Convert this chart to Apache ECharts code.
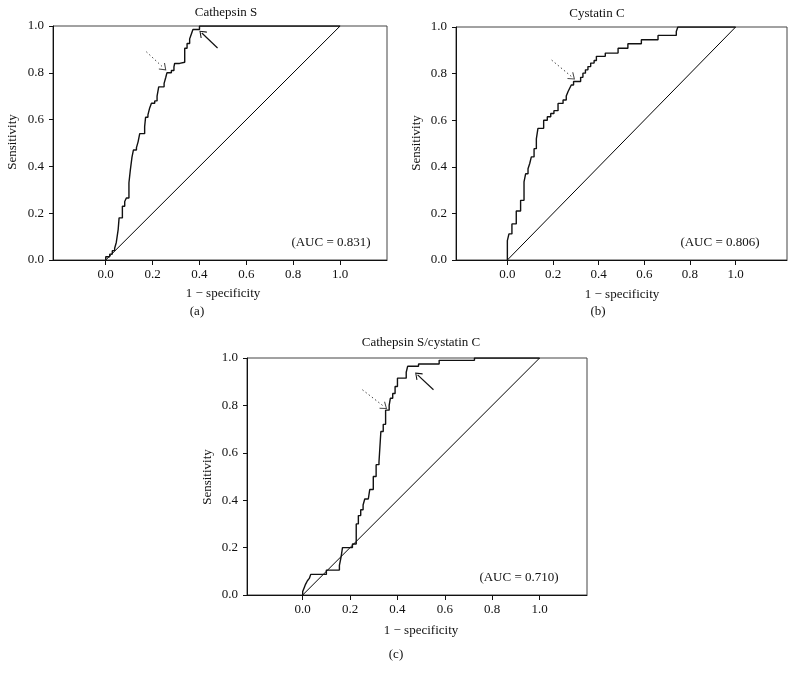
<!DOCTYPE html>
<html>
<head>
<meta charset="utf-8">
<script src="https://cdn.jsdelivr.net/npm/echarts@6/dist/echarts.min.js"></script>
<style>html,body{margin:0;padding:0;background:#fff}#c{width:796px;height:682px}</style>
</head>
<body>
<div id="c"></div>
<script>
// ---- data ----
const panelTitles = ['Cathepsin S', 'Cystatin C', 'Cathepsin S/cystatin C'];
const panelLetters = ['(a)', '(b)', '(c)'];
const aucLabels = ['(AUC = 0.831)', '(AUC = 0.806)', '(AUC = 0.710)'];
const xTicks = [0, 0.2, 0.4, 0.6, 0.8, 1.0];
const yTicks = [0, 0.2, 0.4, 0.6, 0.8, 1.0];
const diagX = [0, 1];
const diagY = [0, 1];

// ROC points (1 - specificity, sensitivity); vertical rise at each x, then horizontal
const fprA = [0, 0.017, 0.028, 0.038, 0.045, 0.053, 0.057, 0.071, 0.081, 0.088, 0.099, 0.105, 0.112, 0.118, 0.131, 0.138, 0.145, 0.166, 0.170, 0.180, 0.1875, 0.195, 0.209, 0.219, 0.226, 0.249, 0.256, 0.261, 0.280, 0.291, 0.294, 0.315, 0.337, 0.347, 0.358, 0.365, 0.372, 0.400, 1.0];
const tprA = [0, 0.014, 0.025, 0.040, 0.050, 0.075, 0.130, 0.180, 0.230, 0.250, 0.265, 0.330, 0.385, 0.440, 0.470, 0.480, 0.505, 0.540, 0.570, 0.610, 0.620, 0.650, 0.670, 0.680, 0.700, 0.740, 0.755, 0.780, 0.800, 0.810, 0.825, 0.840, 0.845, 0.905, 0.925, 0.945, 0.965, 0.985, 1.0];

const fprB = [0, 0.007, 0.020, 0.039, 0.058, 0.073, 0.080, 0.0905, 0.098, 0.105, 0.117, 0.127, 0.134, 0.159, 0.175, 0.190, 0.204, 0.222, 0.244, 0.258, 0.266, 0.273, 0.280, 0.290, 0.321, 0.331, 0.342, 0.353, 0.365, 0.380, 0.390, 0.429, 0.485, 0.528, 0.587, 0.660, 0.740, 0.747, 1.0];
const tprB = [0, 0.083, 0.112, 0.155, 0.210, 0.256, 0.335, 0.370, 0.392, 0.414, 0.4425, 0.478, 0.520, 0.565, 0.600, 0.615, 0.629, 0.641, 0.672, 0.687, 0.704, 0.723, 0.737, 0.751, 0.766, 0.784, 0.802, 0.816, 0.830, 0.845, 0.856, 0.874, 0.888, 0.909, 0.928, 0.945, 0.964, 0.981, 1.0];

const fprC = [0, 0.006, 0.012, 0.020, 0.028, 0.034, 0.100, 0.155, 0.162, 0.168, 0.210, 0.226, 0.235, 0.245, 0.255, 0.262, 0.277, 0.283, 0.298, 0.310, 0.322, 0.330, 0.340, 0.350, 0.365, 0.370, 0.380, 0.390, 0.400, 0.437, 0.443, 0.489, 0.576, 0.725, 1.0];
const tprC = [0, 0.015, 0.030, 0.045, 0.060, 0.070, 0.087, 0.105, 0.125, 0.160, 0.200, 0.215, 0.300, 0.335, 0.360, 0.380, 0.405, 0.410, 0.445, 0.500, 0.550, 0.560, 0.690, 0.720, 0.780, 0.800, 0.830, 0.850, 0.880, 0.915, 0.940, 0.965, 0.975, 0.990, 1.0];

// annotation arrows: [tailX, tailY, headX, headY]
const solidArrowsA = [[0.477, 0.906, 0.410, 0.970]];
const dottedArrowsA = [[0.173, 0.890, 0.248, 0.820]];
const solidArrowsB = [];
const dottedArrowsB = [[0.194, 0.858, 0.285, 0.784]];
const solidArrowsC = [[0.552, 0.866, 0.485, 0.929]];
const dottedArrowsC = [[0.252, 0.866, 0.345, 0.794]];

// ---- layout / style ----
const FONT = '"Liberation Serif", "DejaVu Serif", serif';
const TXT = '#111';
const panels = [
  { grid: { left: 53, top: 26, width: 334, height: 234 }, xMin: -0.225, xMax: 1.2,
    fpr: fprA, tpr: tprA, solid: solidArrowsA, dotted: dottedArrowsA,
    title: [226, 13], letter: [197, 312], auc: [331, 243], xName: [223, 294], yName: [13, 142] },
  { grid: { left: 456, top: 27, width: 331, height: 233 }, xMin: -0.225, xMax: 1.225,
    fpr: fprB, tpr: tprB, solid: solidArrowsB, dotted: dottedArrowsB,
    title: [597, 14], letter: [598, 312], auc: [720, 243], xName: [622, 295], yName: [417, 143] },
  { grid: { left: 247, top: 358, width: 340, height: 237 }, xMin: -0.235, xMax: 1.2,
    fpr: fprC, tpr: tprC, solid: solidArrowsC, dotted: dottedArrowsC,
    title: [421, 343], letter: [396, 655], auc: [519, 578], xName: [421, 631], yName: [208, 477] }
];

const arrowHead = 'path://M0,0L6,8L5,9L0,2.2L-5,9L-6,8Z';

const option = { animation: false, grid: [], xAxis: [], yAxis: [], series: [], graphic: [] };

function txt(pos, text, rot) {
  return {
    type: 'text', x: pos[0], y: pos[1], rotation: rot || 0, silent: true,
    style: { text: text, font: '13px ' + FONT, fill: TXT,
             align: 'center', verticalAlign: 'middle', textAlign: 'center', textVerticalAlign: 'middle' }
  };
}

panels.forEach((p, i) => {
  option.grid.push(Object.assign({ show: true, borderColor: '#444', borderWidth: 1, backgroundColor: 'transparent' }, p.grid));
  option.xAxis.push({
    type: 'value', gridIndex: i, min: p.xMin, max: p.xMax,
    axisLine: { show: true, onZero: false, lineStyle: { color: '#111', width: 1 } },
    axisTick: { show: true, inside: false, length: 5, customValues: xTicks, lineStyle: { color: '#111' } },
    axisLabel: { customValues: xTicks, margin: 8, fontFamily: FONT, fontSize: 13, color: TXT,
                 formatter: v => v.toFixed(1) },
    splitLine: { show: false }
  });
  option.yAxis.push({
    type: 'value', gridIndex: i, min: 0, max: 1, interval: 0.2,
    axisLine: { show: true, onZero: false, lineStyle: { color: '#111', width: 1 } },
    axisTick: { show: true, length: 4, customValues: yTicks, lineStyle: { color: '#111' } },
    axisLabel: { customValues: yTicks, margin: 9, fontFamily: FONT, fontSize: 13, color: TXT, formatter: v => v.toFixed(1) },
    splitLine: { show: false }
  });
  option.series.push({
    type: 'line', xAxisIndex: i, yAxisIndex: i, silent: true,
    data: diagX.map((x, k) => [x, diagY[k]]),
    symbol: 'none', lineStyle: { color: '#000', width: 1 }
  });
  const mlData = [];
  p.solid.forEach(a => mlData.push([{ coord: [a[0], a[1]], lineStyle: { type: 'solid', color: '#111', width: 1.2 } },
                                     { coord: [a[2], a[3]] }]));
  p.dotted.forEach(a => mlData.push([{ coord: [a[0], a[1]], lineStyle: { type: [1.5, 2.5], color: '#444', width: 1 } },
                                      { coord: [a[2], a[3]] }]));
  option.series.push({
    type: 'line', xAxisIndex: i, yAxisIndex: i, silent: true,
    data: p.fpr.map((x, k) => [x, p.tpr[k]]),
    step: 'start', symbol: 'none', lineStyle: { color: '#111', width: 1.4 },
    markLine: {
      silent: true, animation: false, symbol: ['none', arrowHead], symbolSize: [9, 8], symbolKeepAspect: true,
      label: { show: false }, emphasis: { disabled: true },
      data: mlData
    }
  });
  option.graphic.push(txt(p.title, panelTitles[i]));
  option.graphic.push(txt(p.letter, panelLetters[i]));
  option.graphic.push(txt(p.auc, aucLabels[i]));
  option.graphic.push(txt(p.xName, '1 \u2212 specificity'));
  option.graphic.push(txt(p.yName, 'Sensitivity', Math.PI / 2));
});

const chart = echarts.init(document.getElementById('c'), null, { renderer: 'canvas' });
chart.setOption(option);
</script>
</body>
</html>
